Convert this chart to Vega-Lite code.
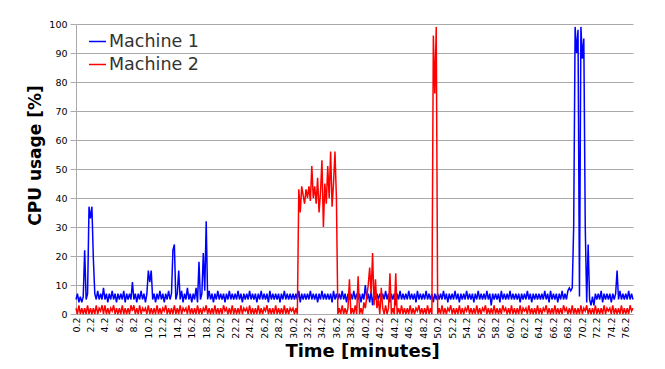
{
"$schema":"https://vega.github.io/schema/vega-lite/v6.json",
"width":557,"height":290,
"autosize":{"type":"none"},
"padding":{"left":76,"top":24,"right":32,"bottom":55},
"background":"white",
"config":{"view":{"stroke":null},"font":"DejaVu Sans"},
"data":{"values":[
{"t":0.2,"Machine 1":5,"Machine 2":2},{"t":0.4,"Machine 1":7,"Machine 2":0},{"t":0.6,"Machine 1":4,"Machine 2":3},{"t":0.8,"Machine 1":6,"Machine 2":0},{"t":1.0,"Machine 1":4,"Machine 2":2},{"t":1.2,"Machine 1":6,"Machine 2":0},{"t":1.4,"Machine 1":22,"Machine 2":2},{"t":1.6,"Machine 1":5,"Machine 2":0},{"t":1.8,"Machine 1":7,"Machine 2":3},{"t":2.0,"Machine 1":37,"Machine 2":0},
{"t":2.2,"Machine 1":33,"Machine 2":2},{"t":2.4,"Machine 1":37,"Machine 2":0},{"t":2.6,"Machine 1":19,"Machine 2":2},{"t":2.8,"Machine 1":7,"Machine 2":0},{"t":3.0,"Machine 1":5,"Machine 2":3},{"t":3.2,"Machine 1":8,"Machine 2":0},{"t":3.4,"Machine 1":5,"Machine 2":2},{"t":3.6,"Machine 1":7,"Machine 2":1},{"t":3.8,"Machine 1":5,"Machine 2":3},{"t":4.0,"Machine 1":9,"Machine 2":0},
{"t":4.2,"Machine 1":5,"Machine 2":3},{"t":4.4,"Machine 1":7,"Machine 2":0},{"t":4.6,"Machine 1":4,"Machine 2":2},{"t":4.8,"Machine 1":7,"Machine 2":0},{"t":5.0,"Machine 1":5,"Machine 2":2},{"t":5.2,"Machine 1":8,"Machine 2":1},{"t":5.4,"Machine 1":5,"Machine 2":3},{"t":5.6,"Machine 1":7,"Machine 2":0},{"t":5.8,"Machine 1":4,"Machine 2":2},{"t":6.0,"Machine 1":7,"Machine 2":0},
{"t":6.2,"Machine 1":5,"Machine 2":2},{"t":6.4,"Machine 1":7,"Machine 2":0},{"t":6.6,"Machine 1":5,"Machine 2":3},{"t":6.8,"Machine 1":8,"Machine 2":0},{"t":7.0,"Machine 1":4,"Machine 2":2},{"t":7.2,"Machine 1":7,"Machine 2":0},{"t":7.4,"Machine 1":5,"Machine 2":2},{"t":7.6,"Machine 1":7,"Machine 2":0},{"t":7.8,"Machine 1":5,"Machine 2":3},{"t":8.0,"Machine 1":11,"Machine 2":1},
{"t":8.2,"Machine 1":5,"Machine 2":3},{"t":8.4,"Machine 1":7,"Machine 2":0},{"t":8.6,"Machine 1":4,"Machine 2":2},{"t":8.8,"Machine 1":7,"Machine 2":0},{"t":9.0,"Machine 1":5,"Machine 2":3},{"t":9.2,"Machine 1":8,"Machine 2":0},{"t":9.4,"Machine 1":5,"Machine 2":2},{"t":9.6,"Machine 1":7,"Machine 2":1},{"t":9.8,"Machine 1":4,"Machine 2":2},{"t":10.0,"Machine 1":7,"Machine 2":0},
{"t":10.2,"Machine 1":15,"Machine 2":3},{"t":10.4,"Machine 1":11,"Machine 2":0},{"t":10.6,"Machine 1":15,"Machine 2":2},{"t":10.8,"Machine 1":5,"Machine 2":0},{"t":11.0,"Machine 1":7,"Machine 2":2},{"t":11.2,"Machine 1":4,"Machine 2":0},{"t":11.4,"Machine 1":7,"Machine 2":3},{"t":11.6,"Machine 1":5,"Machine 2":0},{"t":11.8,"Machine 1":8,"Machine 2":2},{"t":12.0,"Machine 1":5,"Machine 2":0},
{"t":12.2,"Machine 1":7,"Machine 2":2},{"t":12.4,"Machine 1":4,"Machine 2":1},{"t":12.6,"Machine 1":7,"Machine 2":3},{"t":12.8,"Machine 1":5,"Machine 2":0},{"t":13.0,"Machine 1":8,"Machine 2":2},{"t":13.2,"Machine 1":5,"Machine 2":0},{"t":13.4,"Machine 1":7,"Machine 2":2},{"t":13.6,"Machine 1":22,"Machine 2":0},{"t":13.8,"Machine 1":24,"Machine 2":3},{"t":14.0,"Machine 1":5,"Machine 2":0},
{"t":14.2,"Machine 1":7,"Machine 2":2},{"t":14.4,"Machine 1":15,"Machine 2":0},{"t":14.6,"Machine 1":5,"Machine 2":3},{"t":14.8,"Machine 1":8,"Machine 2":0},{"t":15.0,"Machine 1":4,"Machine 2":2},{"t":15.2,"Machine 1":7,"Machine 2":1},{"t":15.4,"Machine 1":5,"Machine 2":2},{"t":15.6,"Machine 1":9,"Machine 2":0},{"t":15.8,"Machine 1":5,"Machine 2":3},{"t":16.0,"Machine 1":7,"Machine 2":0},
{"t":16.2,"Machine 1":4,"Machine 2":2},{"t":16.4,"Machine 1":7,"Machine 2":0},{"t":16.6,"Machine 1":5,"Machine 2":2},{"t":16.8,"Machine 1":9,"Machine 2":0},{"t":17.0,"Machine 1":4,"Machine 2":3},{"t":17.2,"Machine 1":18,"Machine 2":0},{"t":17.4,"Machine 1":5,"Machine 2":2},{"t":17.6,"Machine 1":7,"Machine 2":0},{"t":17.8,"Machine 1":21,"Machine 2":2},{"t":18.0,"Machine 1":8,"Machine 2":1},
{"t":18.2,"Machine 1":32,"Machine 2":3},{"t":18.4,"Machine 1":5,"Machine 2":0},{"t":18.6,"Machine 1":8,"Machine 2":2},{"t":18.8,"Machine 1":5,"Machine 2":0},{"t":19.0,"Machine 1":7,"Machine 2":2},{"t":19.2,"Machine 1":4,"Machine 2":0},{"t":19.4,"Machine 1":7,"Machine 2":3},{"t":19.6,"Machine 1":5,"Machine 2":0},{"t":19.8,"Machine 1":8,"Machine 2":2},{"t":20.0,"Machine 1":5,"Machine 2":0},
{"t":20.2,"Machine 1":7,"Machine 2":2},{"t":20.4,"Machine 1":5,"Machine 2":0},{"t":20.6,"Machine 1":7,"Machine 2":3},{"t":20.8,"Machine 1":4,"Machine 2":1},{"t":21.0,"Machine 1":7,"Machine 2":2},{"t":21.2,"Machine 1":5,"Machine 2":0},{"t":21.4,"Machine 1":8,"Machine 2":2},{"t":21.6,"Machine 1":5,"Machine 2":0},{"t":21.8,"Machine 1":7,"Machine 2":3},{"t":22.0,"Machine 1":5,"Machine 2":0},
{"t":22.2,"Machine 1":7,"Machine 2":2},{"t":22.4,"Machine 1":5,"Machine 2":0},{"t":22.6,"Machine 1":8,"Machine 2":2},{"t":22.8,"Machine 1":5,"Machine 2":0},{"t":23.0,"Machine 1":7,"Machine 2":3},{"t":23.2,"Machine 1":4,"Machine 2":0},{"t":23.4,"Machine 1":7,"Machine 2":2},{"t":23.6,"Machine 1":5,"Machine 2":1},{"t":23.8,"Machine 1":7,"Machine 2":2},{"t":24.0,"Machine 1":5,"Machine 2":0},
{"t":24.2,"Machine 1":8,"Machine 2":3},{"t":24.4,"Machine 1":5,"Machine 2":0},{"t":24.6,"Machine 1":7,"Machine 2":2},{"t":24.8,"Machine 1":5,"Machine 2":0},{"t":25.0,"Machine 1":7,"Machine 2":2},{"t":25.2,"Machine 1":4,"Machine 2":0},{"t":25.4,"Machine 1":7,"Machine 2":3},{"t":25.6,"Machine 1":5,"Machine 2":0},{"t":25.8,"Machine 1":8,"Machine 2":2},{"t":26.0,"Machine 1":5,"Machine 2":0},
{"t":26.2,"Machine 1":7,"Machine 2":2},{"t":26.4,"Machine 1":5,"Machine 2":1},{"t":26.6,"Machine 1":7,"Machine 2":3},{"t":26.8,"Machine 1":4,"Machine 2":0},{"t":27.0,"Machine 1":8,"Machine 2":2},{"t":27.2,"Machine 1":5,"Machine 2":0},{"t":27.4,"Machine 1":7,"Machine 2":2},{"t":27.6,"Machine 1":5,"Machine 2":0},{"t":27.8,"Machine 1":7,"Machine 2":3},{"t":28.0,"Machine 1":5,"Machine 2":0},
{"t":28.2,"Machine 1":7,"Machine 2":2},{"t":28.4,"Machine 1":4,"Machine 2":0},{"t":28.6,"Machine 1":7,"Machine 2":2},{"t":28.8,"Machine 1":5,"Machine 2":0},{"t":29.0,"Machine 1":8,"Machine 2":3},{"t":29.2,"Machine 1":5,"Machine 2":0},{"t":29.4,"Machine 1":7,"Machine 2":2},{"t":29.6,"Machine 1":5,"Machine 2":0},{"t":29.8,"Machine 1":7,"Machine 2":2},{"t":30.0,"Machine 1":5,"Machine 2":1},
{"t":30.2,"Machine 1":7,"Machine 2":2},{"t":30.4,"Machine 1":5,"Machine 2":0},{"t":30.6,"Machine 1":7,"Machine 2":2},{"t":30.8,"Machine 1":5,"Machine 2":0},{"t":31.0,"Machine 1":8,"Machine 2":43},{"t":31.2,"Machine 1":4,"Machine 2":35},{"t":31.4,"Machine 1":7,"Machine 2":44},{"t":31.6,"Machine 1":5,"Machine 2":41},{"t":31.8,"Machine 1":7,"Machine 2":38},{"t":32.0,"Machine 1":5,"Machine 2":43},
{"t":32.2,"Machine 1":7,"Machine 2":40},{"t":32.4,"Machine 1":5,"Machine 2":44},{"t":32.6,"Machine 1":8,"Machine 2":39},{"t":32.8,"Machine 1":5,"Machine 2":51},{"t":33.0,"Machine 1":7,"Machine 2":40},{"t":33.2,"Machine 1":5,"Machine 2":44},{"t":33.4,"Machine 1":7,"Machine 2":38},{"t":33.6,"Machine 1":4,"Machine 2":47},{"t":33.8,"Machine 1":7,"Machine 2":35},{"t":34.0,"Machine 1":5,"Machine 2":42},
{"t":34.2,"Machine 1":8,"Machine 2":53},{"t":34.4,"Machine 1":5,"Machine 2":30},{"t":34.6,"Machine 1":7,"Machine 2":45},{"t":34.8,"Machine 1":5,"Machine 2":38},{"t":35.0,"Machine 1":7,"Machine 2":51},{"t":35.2,"Machine 1":5,"Machine 2":40},{"t":35.4,"Machine 1":7,"Machine 2":56},{"t":35.6,"Machine 1":4,"Machine 2":37},{"t":35.8,"Machine 1":8,"Machine 2":45},{"t":36.0,"Machine 1":5,"Machine 2":56},
{"t":36.2,"Machine 1":7,"Machine 2":40},{"t":36.4,"Machine 1":5,"Machine 2":0},{"t":36.6,"Machine 1":7,"Machine 2":2},{"t":36.8,"Machine 1":5,"Machine 2":0},{"t":37.0,"Machine 1":8,"Machine 2":3},{"t":37.2,"Machine 1":5,"Machine 2":0},{"t":37.4,"Machine 1":7,"Machine 2":2},{"t":37.6,"Machine 1":4,"Machine 2":0},{"t":37.8,"Machine 1":7,"Machine 2":2},{"t":38.0,"Machine 1":5,"Machine 2":12},
{"t":38.2,"Machine 1":7,"Machine 2":0},{"t":38.4,"Machine 1":5,"Machine 2":2},{"t":38.6,"Machine 1":8,"Machine 2":0},{"t":38.8,"Machine 1":5,"Machine 2":3},{"t":39.0,"Machine 1":7,"Machine 2":0},{"t":39.2,"Machine 1":5,"Machine 2":13},{"t":39.4,"Machine 1":7,"Machine 2":0},{"t":39.6,"Machine 1":4,"Machine 2":2},{"t":39.8,"Machine 1":7,"Machine 2":0},{"t":40.0,"Machine 1":5,"Machine 2":4},
{"t":40.2,"Machine 1":10,"Machine 2":2},{"t":40.4,"Machine 1":5,"Machine 2":6},{"t":40.6,"Machine 1":7,"Machine 2":10},{"t":40.8,"Machine 1":4,"Machine 2":16},{"t":41.0,"Machine 1":8,"Machine 2":7},{"t":41.2,"Machine 1":3,"Machine 2":21},{"t":41.4,"Machine 1":7,"Machine 2":3},{"t":41.6,"Machine 1":5,"Machine 2":12},{"t":41.8,"Machine 1":7,"Machine 2":2},{"t":42.0,"Machine 1":5,"Machine 2":5},
{"t":42.2,"Machine 1":7,"Machine 2":0},{"t":42.4,"Machine 1":5,"Machine 2":9},{"t":42.6,"Machine 1":7,"Machine 2":2},{"t":42.8,"Machine 1":5,"Machine 2":0},{"t":43.0,"Machine 1":8,"Machine 2":3},{"t":43.2,"Machine 1":5,"Machine 2":0},{"t":43.4,"Machine 1":7,"Machine 2":2},{"t":43.6,"Machine 1":4,"Machine 2":14},{"t":43.8,"Machine 1":7,"Machine 2":0},{"t":44.0,"Machine 1":5,"Machine 2":2},
{"t":44.2,"Machine 1":7,"Machine 2":0},{"t":44.4,"Machine 1":3,"Machine 2":14},{"t":44.6,"Machine 1":7,"Machine 2":0},{"t":44.8,"Machine 1":5,"Machine 2":2},{"t":45.0,"Machine 1":8,"Machine 2":0},{"t":45.2,"Machine 1":5,"Machine 2":3},{"t":45.4,"Machine 1":7,"Machine 2":0},{"t":45.6,"Machine 1":5,"Machine 2":2},{"t":45.8,"Machine 1":7,"Machine 2":0},{"t":46.0,"Machine 1":5,"Machine 2":2},
{"t":46.2,"Machine 1":8,"Machine 2":0},{"t":46.4,"Machine 1":5,"Machine 2":3},{"t":46.6,"Machine 1":7,"Machine 2":0},{"t":46.8,"Machine 1":5,"Machine 2":2},{"t":47.0,"Machine 1":7,"Machine 2":0},{"t":47.2,"Machine 1":4,"Machine 2":2},{"t":47.4,"Machine 1":8,"Machine 2":1},{"t":47.6,"Machine 1":5,"Machine 2":3},{"t":47.8,"Machine 1":7,"Machine 2":0},{"t":48.0,"Machine 1":5,"Machine 2":2},
{"t":48.2,"Machine 1":7,"Machine 2":0},{"t":48.4,"Machine 1":5,"Machine 2":2},{"t":48.6,"Machine 1":8,"Machine 2":0},{"t":48.8,"Machine 1":5,"Machine 2":3},{"t":49.0,"Machine 1":7,"Machine 2":0},{"t":49.2,"Machine 1":5,"Machine 2":2},{"t":49.4,"Machine 1":7,"Machine 2":0},{"t":49.6,"Machine 1":4,"Machine 2":96},{"t":49.8,"Machine 1":7,"Machine 2":76},{"t":50.0,"Machine 1":5,"Machine 2":99},
{"t":50.2,"Machine 1":7,"Machine 2":0},{"t":50.4,"Machine 1":5,"Machine 2":2},{"t":50.6,"Machine 1":7,"Machine 2":0},{"t":50.8,"Machine 1":5,"Machine 2":3},{"t":51.0,"Machine 1":8,"Machine 2":0},{"t":51.2,"Machine 1":5,"Machine 2":2},{"t":51.4,"Machine 1":7,"Machine 2":0},{"t":51.6,"Machine 1":4,"Machine 2":2},{"t":51.8,"Machine 1":7,"Machine 2":1},{"t":52.0,"Machine 1":5,"Machine 2":3},
{"t":52.2,"Machine 1":7,"Machine 2":0},{"t":52.4,"Machine 1":5,"Machine 2":2},{"t":52.6,"Machine 1":8,"Machine 2":0},{"t":52.8,"Machine 1":5,"Machine 2":2},{"t":53.0,"Machine 1":7,"Machine 2":0},{"t":53.2,"Machine 1":4,"Machine 2":3},{"t":53.4,"Machine 1":7,"Machine 2":0},{"t":53.6,"Machine 1":5,"Machine 2":2},{"t":53.8,"Machine 1":7,"Machine 2":0},{"t":54.0,"Machine 1":5,"Machine 2":2},
{"t":54.2,"Machine 1":8,"Machine 2":1},{"t":54.4,"Machine 1":5,"Machine 2":3},{"t":54.6,"Machine 1":7,"Machine 2":0},{"t":54.8,"Machine 1":5,"Machine 2":2},{"t":55.0,"Machine 1":7,"Machine 2":0},{"t":55.2,"Machine 1":4,"Machine 2":2},{"t":55.4,"Machine 1":7,"Machine 2":0},{"t":55.6,"Machine 1":5,"Machine 2":3},{"t":55.8,"Machine 1":8,"Machine 2":0},{"t":56.0,"Machine 1":5,"Machine 2":2},
{"t":56.2,"Machine 1":7,"Machine 2":0},{"t":56.4,"Machine 1":5,"Machine 2":2},{"t":56.6,"Machine 1":7,"Machine 2":1},{"t":56.8,"Machine 1":5,"Machine 2":3},{"t":57.0,"Machine 1":8,"Machine 2":0},{"t":57.2,"Machine 1":5,"Machine 2":2},{"t":57.4,"Machine 1":7,"Machine 2":0},{"t":57.6,"Machine 1":3,"Machine 2":2},{"t":57.8,"Machine 1":7,"Machine 2":0},{"t":58.0,"Machine 1":5,"Machine 2":3},
{"t":58.2,"Machine 1":7,"Machine 2":0},{"t":58.4,"Machine 1":5,"Machine 2":2},{"t":58.6,"Machine 1":7,"Machine 2":0},{"t":58.8,"Machine 1":4,"Machine 2":2},{"t":59.0,"Machine 1":8,"Machine 2":0},{"t":59.2,"Machine 1":5,"Machine 2":3},{"t":59.4,"Machine 1":7,"Machine 2":1},{"t":59.6,"Machine 1":5,"Machine 2":2},{"t":59.8,"Machine 1":7,"Machine 2":0},{"t":60.0,"Machine 1":5,"Machine 2":2},
{"t":60.2,"Machine 1":8,"Machine 2":0},{"t":60.4,"Machine 1":5,"Machine 2":3},{"t":60.6,"Machine 1":7,"Machine 2":0},{"t":60.8,"Machine 1":5,"Machine 2":2},{"t":61.0,"Machine 1":7,"Machine 2":0},{"t":61.2,"Machine 1":5,"Machine 2":2},{"t":61.4,"Machine 1":7,"Machine 2":0},{"t":61.6,"Machine 1":4,"Machine 2":3},{"t":61.8,"Machine 1":7,"Machine 2":0},{"t":62.0,"Machine 1":5,"Machine 2":2},
{"t":62.2,"Machine 1":7,"Machine 2":1},{"t":62.4,"Machine 1":5,"Machine 2":2},{"t":62.6,"Machine 1":8,"Machine 2":0},{"t":62.8,"Machine 1":5,"Machine 2":3},{"t":63.0,"Machine 1":7,"Machine 2":0},{"t":63.2,"Machine 1":4,"Machine 2":2},{"t":63.4,"Machine 1":7,"Machine 2":0},{"t":63.6,"Machine 1":5,"Machine 2":2},{"t":63.8,"Machine 1":7,"Machine 2":0},{"t":64.0,"Machine 1":5,"Machine 2":3},
{"t":64.2,"Machine 1":7,"Machine 2":0},{"t":64.4,"Machine 1":5,"Machine 2":2},{"t":64.6,"Machine 1":7,"Machine 2":0},{"t":64.8,"Machine 1":5,"Machine 2":2},{"t":65.0,"Machine 1":8,"Machine 2":1},{"t":65.2,"Machine 1":5,"Machine 2":3},{"t":65.4,"Machine 1":7,"Machine 2":0},{"t":65.6,"Machine 1":4,"Machine 2":2},{"t":65.8,"Machine 1":8,"Machine 2":0},{"t":66.0,"Machine 1":5,"Machine 2":2},
{"t":66.2,"Machine 1":7,"Machine 2":0},{"t":66.4,"Machine 1":5,"Machine 2":3},{"t":66.6,"Machine 1":7,"Machine 2":0},{"t":66.8,"Machine 1":4,"Machine 2":2},{"t":67.0,"Machine 1":7,"Machine 2":0},{"t":67.2,"Machine 1":5,"Machine 2":2},{"t":67.4,"Machine 1":8,"Machine 2":0},{"t":67.6,"Machine 1":5,"Machine 2":3},{"t":67.8,"Machine 1":7,"Machine 2":1},{"t":68.0,"Machine 1":5,"Machine 2":2},
{"t":68.2,"Machine 1":8,"Machine 2":0},{"t":68.4,"Machine 1":9,"Machine 2":2},{"t":68.6,"Machine 1":8,"Machine 2":0},{"t":68.8,"Machine 1":9,"Machine 2":3},{"t":69.0,"Machine 1":30,"Machine 2":0},{"t":69.2,"Machine 1":99,"Machine 2":2},{"t":69.4,"Machine 1":90,"Machine 2":0},{"t":69.6,"Machine 1":98,"Machine 2":2},{"t":69.8,"Machine 1":6,"Machine 2":0},{"t":70.0,"Machine 1":99,"Machine 2":3},
{"t":70.2,"Machine 1":88,"Machine 2":0},{"t":70.4,"Machine 1":95,"Machine 2":2},{"t":70.6,"Machine 1":30,"Machine 2":1},{"t":70.8,"Machine 1":4,"Machine 2":3},{"t":71.0,"Machine 1":24,"Machine 2":0},{"t":71.2,"Machine 1":5,"Machine 2":2},{"t":71.4,"Machine 1":3,"Machine 2":0},{"t":71.6,"Machine 1":6,"Machine 2":2},{"t":71.8,"Machine 1":3,"Machine 2":0},{"t":72.0,"Machine 1":7,"Machine 2":3},
{"t":72.2,"Machine 1":5,"Machine 2":0},{"t":72.4,"Machine 1":7,"Machine 2":2},{"t":72.6,"Machine 1":5,"Machine 2":0},{"t":72.8,"Machine 1":8,"Machine 2":2},{"t":73.0,"Machine 1":4,"Machine 2":0},{"t":73.2,"Machine 1":7,"Machine 2":3},{"t":73.4,"Machine 1":5,"Machine 2":0},{"t":73.6,"Machine 1":7,"Machine 2":2},{"t":73.8,"Machine 1":5,"Machine 2":1},{"t":74.0,"Machine 1":7,"Machine 2":2},
{"t":74.2,"Machine 1":4,"Machine 2":0},{"t":74.4,"Machine 1":7,"Machine 2":3},{"t":74.6,"Machine 1":5,"Machine 2":0},{"t":74.8,"Machine 1":7,"Machine 2":2},{"t":75.0,"Machine 1":15,"Machine 2":0},{"t":75.2,"Machine 1":5,"Machine 2":2},{"t":75.4,"Machine 1":8,"Machine 2":0},{"t":75.6,"Machine 1":5,"Machine 2":3},{"t":75.8,"Machine 1":7,"Machine 2":0},{"t":76.0,"Machine 1":5,"Machine 2":2},
{"t":76.2,"Machine 1":7,"Machine 2":0},{"t":76.4,"Machine 1":5,"Machine 2":2},{"t":76.6,"Machine 1":8,"Machine 2":0},{"t":76.8,"Machine 1":5,"Machine 2":3},{"t":77.0,"Machine 1":7,"Machine 2":1},{"t":77.2,"Machine 1":5,"Machine 2":2}
]},
"transform":[{"fold":["Machine 1","Machine 2"],"as":["series","cpu"]}],
"mark":{"type":"line","strokeWidth":1.5},
"encoding":{
"x":{"field":"t","type":"quantitative","scale":{"domain":[0.2,77.2],"nice":false,"zero":false},
"axis":{"values":[0.2,2.2,4.2,6.2,8.2,10.2,12.2,14.2,16.2,18.2,20.2,22.2,24.2,26.2,28.2,30.2,32.2,34.2,36.2,38.2,40.2,42.2,44.2,46.2,48.2,50.2,52.2,54.2,56.2,58.2,60.2,62.2,64.2,66.2,68.2,70.2,72.2,74.2,76.2],
"format":".1f","labelAngle":-90,"labelFontSize":9.5,"labelColor":"#000","labelOverlap":false,"labelFlush":false,"labelPadding":3,"ticks":false,"grid":false,"domainColor":"#aaaaaa",
"title":"Time [minutes]","titleFontSize":18,"titleFontWeight":"bold","titleColor":"#000","titlePadding":4,"titleX":286}},
"y":{"field":"cpu","type":"quantitative","scale":{"domain":[0,100],"nice":false},
"axis":{"values":[0,10,20,30,40,50,60,70,80,90,100],"grid":true,"gridColor":"#aaaaaa","domainColor":"#aaaaaa","tickColor":"#aaaaaa","tickSize":6,"labelFontSize":9.5,"labelColor":"#000","labelPadding":3,
"title":"CPU usage [%]","titleFontSize":17,"titleFontWeight":"bold","titleColor":"#000","titlePadding":4,"titleY":131}},
"color":{"field":"series","type":"nominal","scale":{"domain":["Machine 1","Machine 2"],"range":["#0000ff","#ff0000"]},
"legend":{"title":null,"orient":"none","legendX":12,"legendY":8,"symbolType":"stroke","symbolSize":289,"symbolStrokeWidth":1.5,"labelFontSize":17.5,"labelColor":"#333","labelOffset":2,"rowPadding":5}}
}
}
